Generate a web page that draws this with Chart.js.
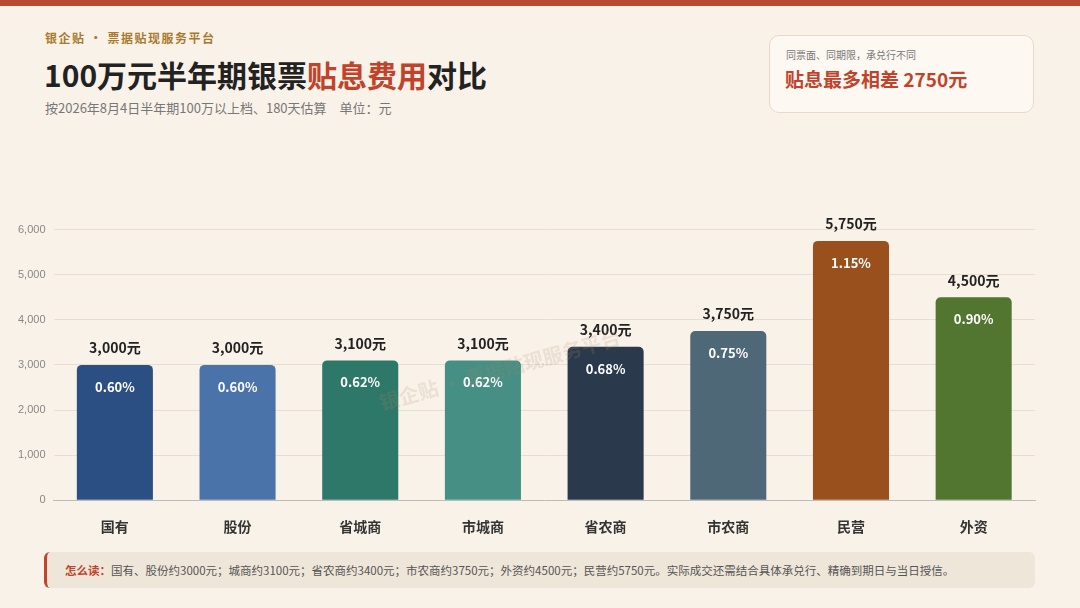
<!DOCTYPE html>
<html><head><meta charset="utf-8">
<script src="https://cdn.jsdelivr.net/npm/chart.js@4"></script>
<style>
body{margin:0;width:1080px;height:608px;background:#f9f2e9;font-family:"Noto Sans CJK SC","Noto Sans",sans-serif;position:relative;overflow:hidden}
.top{position:absolute;left:0;top:0;width:1080px;height:6px;background:#b84a32}
.brand{position:absolute;left:45px;top:29px;font-size:12px;font-weight:700;color:#a87a2e;letter-spacing:1.5px}
.title{position:absolute;left:44px;top:52px;font-size:30px;font-weight:700;color:#222;letter-spacing:0px}
.title span{color:#c0432c}
.sub{position:absolute;left:45px;top:98px;font-size:13px;color:#777}
.card{position:absolute;left:769px;top:35px;width:265px;height:78px;box-sizing:border-box;background:#fdf8f2;border:1px solid #ead9c5;border-radius:10px}
.card .a{position:absolute;left:16px;top:11px;font-size:10px;color:#777}
.card .b{position:absolute;left:15px;top:29px;font-size:19px;font-weight:700;color:#c0432c}
.note{position:absolute;left:44px;top:552px;width:991px;height:36px;background:#efe6da;border-radius:6px;border-left:3px solid #c0432c;box-sizing:border-box;font-size:11.5px;color:#555;line-height:36px;padding-left:18px}
.note b{color:#c0432c}
#wrap{position:absolute;left:0;top:215px;width:1060px;height:330px}
</style></head><body>
<div class="top"></div>
<div class="brand">银企贴 · 票据贴现服务平台</div>
<div class="title">100万元半年期银票<span>贴息费用</span>对比</div>
<div class="sub">按2026年8月4日半年期100万以上档、180天估算　单位：元</div>
<div class="card"><div class="a">同票面、同期限，承兑行不同</div><div class="b">贴息最多相差 2750元</div></div>
<div id="wrap"><canvas id="c"></canvas></div>
<div class="note"><b>怎么读：</b>国有、股份约3000元；城商约3100元；省农商约3400元；市农商约3750元；外资约4500元；民营约5750元。实际成交还需结合具体承兑行、精确到期日与当日授信。</div>
<script>
const categories=["国有","股份","省城商","市城商","省农商","市农商","民营","外资"];
const fees=[3000,3000,3100,3100,3400,3750,5750,4500];
const rates=["0.60%","0.60%","0.62%","0.62%","0.68%","0.75%","1.15%","0.90%"];
const colors=["#2b4f82","#4a73aa","#2d7868","#458f84","#2a3a4c","#4f6878","#9a501c","#52752f"];
const yTicks=[0,1000,2000,3000,4000,5000,6000];
const labels={id:'lab',afterDatasetsDraw(ch){const c=ch.ctx;const m=ch.getDatasetMeta(0);
c.save();c.textAlign='center';
m.data.forEach((b,i)=>{c.fillStyle='#222';c.font='bold 14px "Noto Sans CJK SC"';c.textBaseline='bottom';
c.fillText(fees[i].toLocaleString('en-US')+'元',b.x,b.y-10);
c.fillStyle='#fff';c.font='bold 13px "Noto Sans CJK SC"';c.textBaseline='middle';c.fillText(rates[i],b.x,b.y+22);});
c.translate(500,155);c.rotate(-0.27);c.fillStyle='rgba(180,140,110,0.18)';c.font='bold 20px "Noto Sans CJK SC"';c.fillText('银企贴 · 票据贴现服务平台',0,0);
c.restore();}};
new Chart(document.getElementById('c'),{type:'bar',
data:{labels:categories,datasets:[{data:fees,backgroundColor:colors,borderRadius:{topLeft:5,topRight:5},borderSkipped:'bottom',barPercentage:0.62,categoryPercentage:1}]},
options:{responsive:true,maintainAspectRatio:false,animation:false,layout:{padding:{left:10,right:25,top:0}},
plugins:{legend:{display:false},tooltip:{enabled:false}},
scales:{y:{min:0,max:6000,afterBuildTicks(a){a.ticks=yTicks.map(v=>({value:v}));},ticks:{color:'#888',font:{size:11},padding:8},grid:{color:'#e8ddd0',drawTicks:false},border:{display:false}},
x:{ticks:{color:'#333',font:{size:14,weight:'bold',family:'"Noto Sans CJK SC"'},padding:10},grid:{display:false},border:{color:'#bbb'}}}},
plugins:[labels]});
</script></body></html>
